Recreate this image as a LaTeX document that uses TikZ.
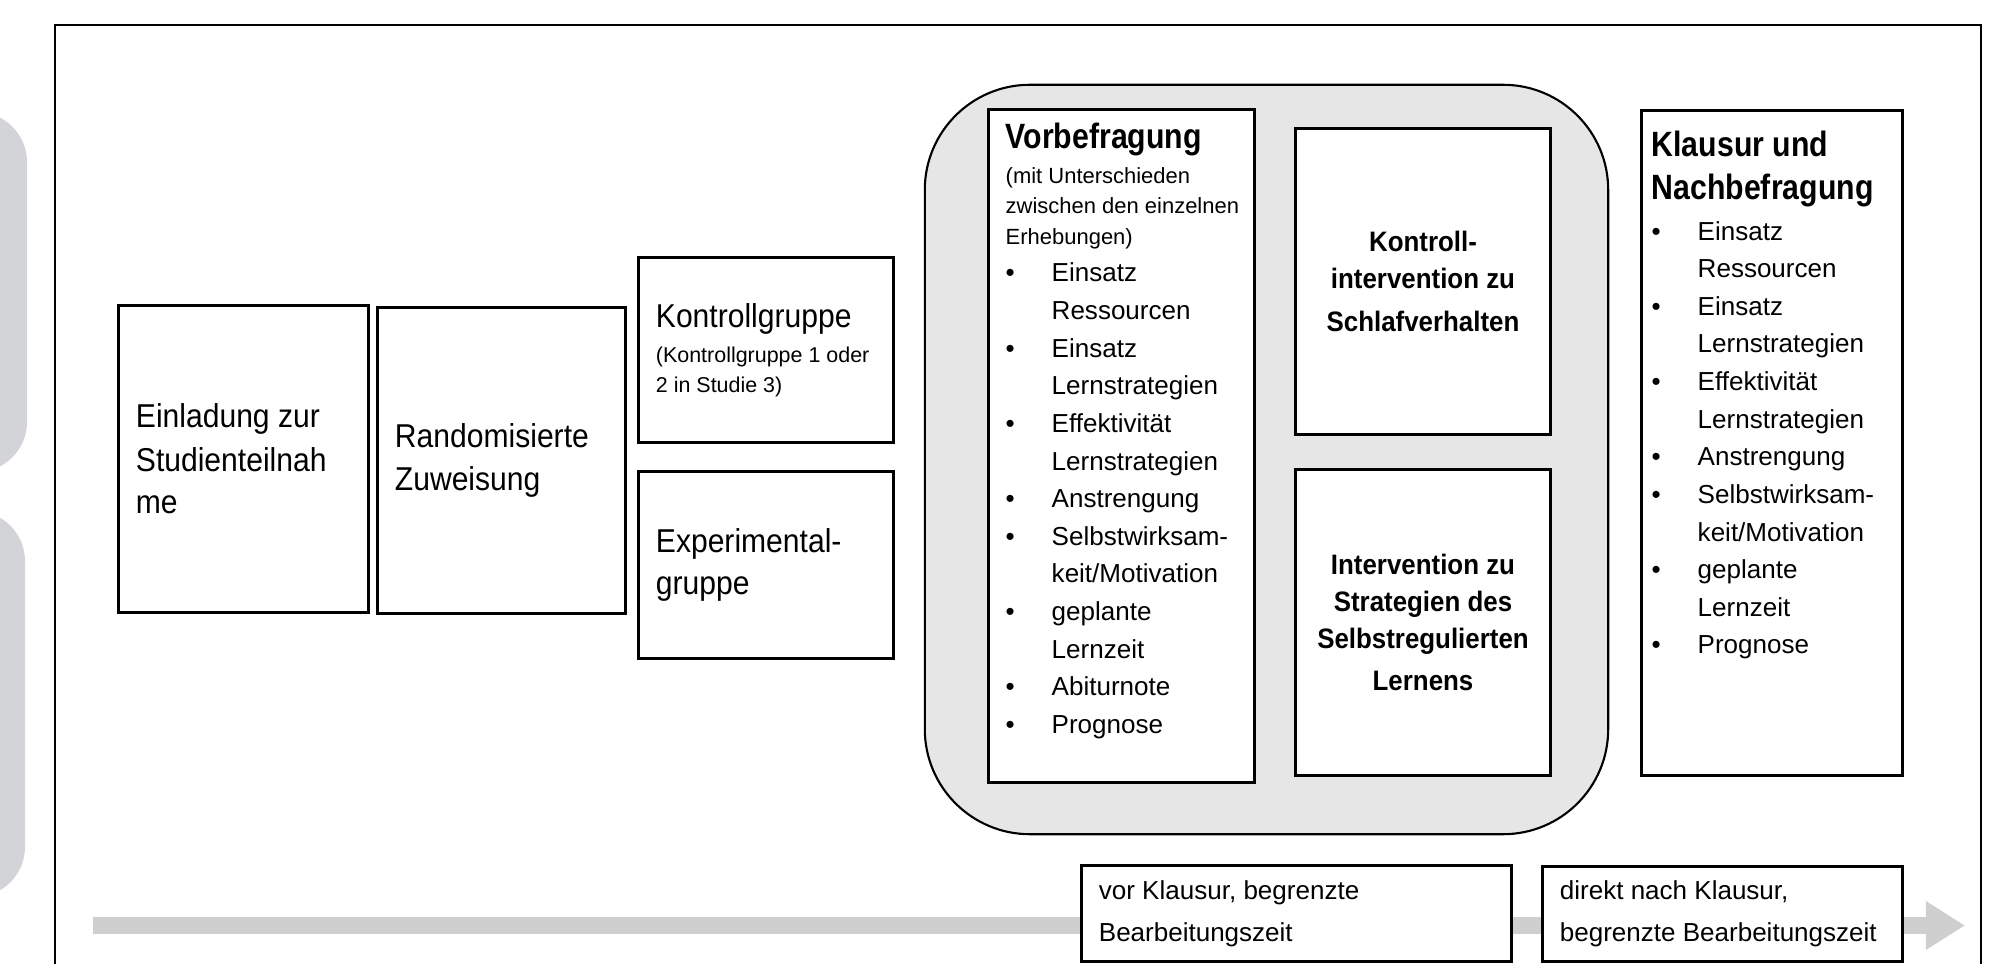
\documentclass[tikz,border=0pt]{standalone}
\usepackage{fontspec}
\setmainfont{Liberation Sans}
\newfontfamily\condfont[FakeStretch=0.91]{Liberation Sans}
\newfontfamily\headfont[FakeStretch=0.86]{Liberation Sans}
\newfontfamily\intfont[FakeStretch=0.92]{Liberation Sans}
\usetikzlibrary{arrows.meta,positioning}

\definecolor{sidegray}{HTML}{D3D4D8}
\definecolor{phasegray}{HTML}{E6E6E6}
\definecolor{timegray}{HTML}{CFCFCF}

\newcommand{\bigtext}{\condfont\fontsize{9.4}{12.5}\selectfont}
\newcommand{\subtext}{\fontsize{6.1}{8.5}\selectfont}
\newcommand{\headtext}{\headfont\bfseries\fontsize{10}{12.2}\selectfont}
\newcommand{\notetext}{\fontsize{6.25}{8.7}\selectfont}
\newcommand{\listtext}{\fontsize{7.4}{10.7}\selectfont}
\newcommand{\inttext}{\intfont\bfseries\fontsize{8}{10.5}\selectfont}
\newcommand{\timetext}{\fontsize{7.4}{10.4}\selectfont}
\newcommand{\bull}[1]{\makebox[0.46cm][l]{\textbullet}#1}
\newcommand{\cont}[1]{\hspace*{0.46cm}#1}

\begin{document}
\begin{tikzpicture}[x=0.01cm, y=-0.01cm,
    stage/.style={draw, line width=0.85pt, fill=white, inner xsep=0.17cm, inner ysep=0pt, align=flush left},
    listtext/.style={anchor=base west, inner sep=0pt, align=flush left}]
      \useasboundingbox (0,0) rectangle (2008,964);
      \clip (0,0) rectangle (2008,964);

      % Background
      \fill[sidegray, rounded corners=0.5cm] (-60,112) rectangle (27,472);
      \fill[sidegray, rounded corners=0.5cm] (-60,511) rectangle (25,897);
      \draw[line width=0.6pt] (55,990) |- (1981,25) -- (1981,990);

      % Time line
      \coordinate (tlstart) at (93,925.5);
      \coordinate (tlend) at (1965,925.5);
      \draw[timegray, line width=0.17cm, -{Triangle[length=0.39cm, width=0.46cm]}] (tlstart) -- (tlend);

      % Define nodes
      \node[stage, minimum width=2.49cm, minimum height=3.06cm, text width=2.15cm] (einladung) at (243.5,459)
        {\bigtext Einladung zur\\Studienteilnah\\me};
      \node[stage, minimum width=2.47cm, minimum height=3.05cm, text width=2.13cm] (zuweisung) at (501.5,460.5)
        {\bigtext Randomisierte\\Zuweisung};
      \node[stage, minimum width=2.54cm, minimum height=1.84cm, text width=2.2cm] (kontrolle) at (766,350)
        {{\bigtext Kontrollgruppe\par}\vspace{0.05cm}{\subtext \mbox{(Kontrollgruppe 1 oder}\\2 in Studie 3)\par}};
      \node[stage, minimum width=2.54cm, minimum height=1.86cm, text width=2.2cm] (experiment) at (766,565)
        {\bigtext Experimental-\\gruppe};

      \node[draw, line width=0.6pt, fill=phasegray, rounded corners=1.05cm,
        minimum width=6.83cm, minimum height=7.49cm] (phase) at (1266.5,459.5) {};

      \node[stage, minimum width=2.65cm, minimum height=6.72cm] (vorbefragung) at (1121.5,446) {};
      \node[listtext, text width=2.45cm] (vortext) at (1005,149)
        {{\headtext Vorbefragung\par}\vspace{0.035cm}
         {\notetext (mit Unterschieden\\zwischen den einzelnen\\Erhebungen)\par}
         {\listtext \bull{Einsatz}\\\cont{Ressourcen}\\\bull{Einsatz}\\\cont{Lernstrategien}\\
          \bull{Effektivität}\\\cont{Lernstrategien}\\\bull{Anstrengung}\\\bull{Selbstwirksam-}\\
          \cont{keit/Motivation}\\\bull{geplante}\\\cont{Lernzeit}\\\bull{Abiturnote}\\\bull{Prognose}\par}};

      \node[stage, align=flush center, minimum width=2.54cm, minimum height=3.05cm, text width=2.2cm] (kontrollint) at (1423,281.5)
        {\inttext Kontroll-\\intervention zu\\Schlafverhalten};
      \node[stage, align=flush center, minimum width=2.54cm, minimum height=3.05cm, text width=2.2cm] (srlint) at (1423,622.5)
        {\inttext Intervention zu\\Strategien des\\Selbstregulierten\\Lernens};

      \node[stage, minimum width=2.6cm, minimum height=6.64cm] (klausur) at (1772,443) {};
      \node[listtext, text width=2.4cm] (klaustext) at (1651,157)
        {{\headtext Klausur und\\Nachbefragung\par}\vspace{0.025cm}
         {\listtext \bull{Einsatz}\\\cont{Ressourcen}\\\bull{Einsatz}\\\cont{Lernstrategien}\\
          \bull{Effektivität}\\\cont{Lernstrategien}\\\bull{Anstrengung}\\\bull{Selbstwirksam-}\\
          \cont{keit/Motivation}\\\bull{geplante}\\\cont{Lernzeit}\\\bull{Prognose}\par}};

      \node[stage, minimum width=4.29cm, minimum height=0.95cm, text width=3.95cm] (vorzeit) at (1296.5,913.5)
        {\timetext vor Klausur, begrenzte\\Bearbeitungszeit};
      \node[stage, minimum width=3.59cm, minimum height=0.94cm, text width=3.25cm] (nachzeit) at (1722.5,914)
        {\timetext direkt nach Klausur,\\begrenzte Bearbeitungszeit};
\end{tikzpicture}
\end{document}
